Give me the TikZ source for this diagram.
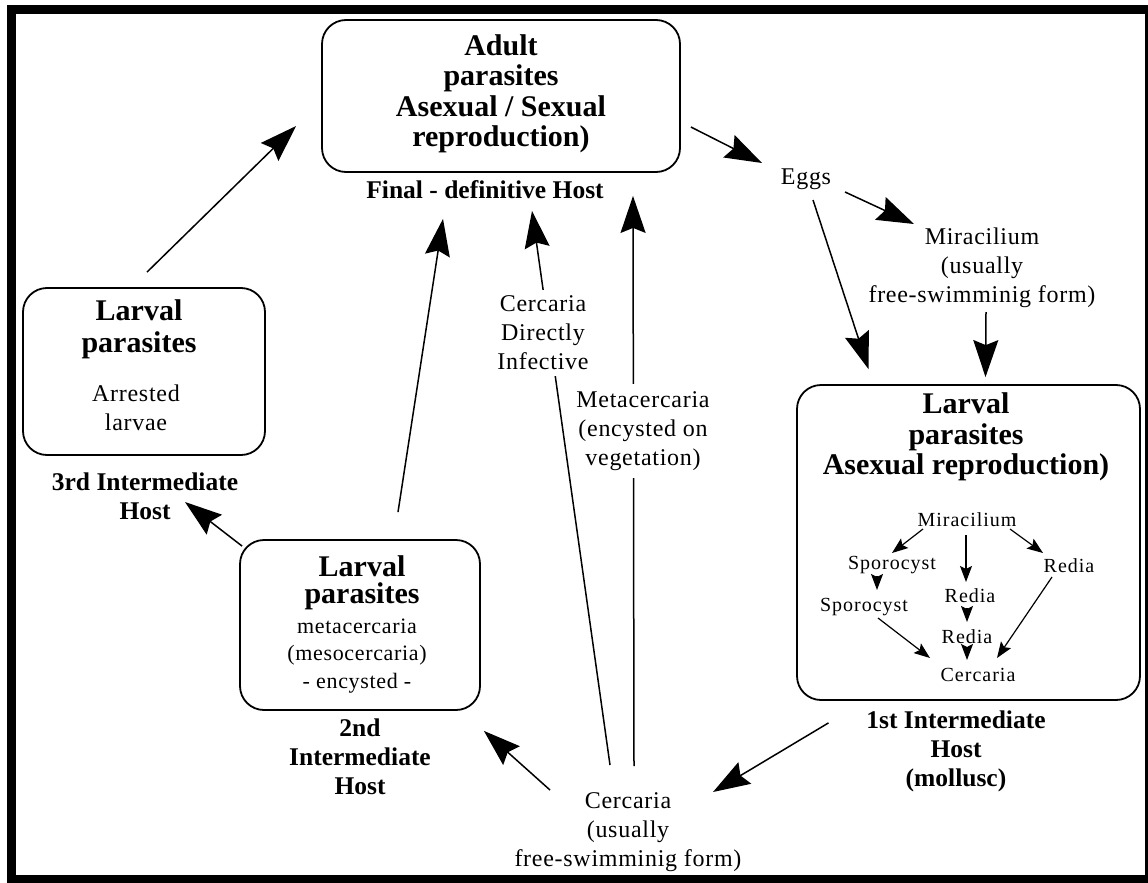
\documentclass[tikz,border=0pt]{standalone}
\usepackage{fontspec}
\setmainfont{Liberation Serif}
\usetikzlibrary{arrows.meta,calc}
\begin{document}
\begin{tikzpicture}[x=1pt,y=-1pt,
  box/.style={draw, line width=1.8pt, rounded corners=24pt, inner sep=0pt},
  ttl/.style={font=\fontsize{30}{30.5}\selectfont\bfseries, align=center, inner sep=0pt},
  host/.style={font=\fontsize{25.5}{29}\selectfont\bfseries, align=center, inner sep=0pt},
  txt/.style={font=\fontsize{24}{29}\selectfont\addfontfeature{LetterSpace=3}, align=center, inner sep=0pt},
  mid/.style={font=\fontsize{22}{27.5}\selectfont\addfontfeature{LetterSpace=3}, align=center, inner sep=0pt},
  small/.style={font=\fontsize{20}{22}\selectfont\addfontfeature{LetterSpace=5}, inner sep=0pt},
  big/.style={-{Stealth[length=37pt,width=25pt,inset=5pt]}, line width=1.5pt},
  sm/.style={-{Stealth[length=16pt,width=12pt,inset=3pt]}, line width=1.2pt},
]
\useasboundingbox (0,0) rectangle (1148,883);
\fill[white] (0,0) rectangle (1148,883);
\draw[line width=9pt] (11.5,9.5) rectangle (1149,879.5);

% boxes
\node[box, minimum width=358pt, minimum height=152pt] (adult) at (501,96) {};
\node[ttl] (adultT) at (501,94) {Adult\\parasites\\Asexual / Sexual\\reproduction)};
\node[host] (final) at (485,190) {Final - definitive Host};

\node[box, minimum width=242pt, minimum height=167pt] (larv3) at (144,371.5) {};
\node[ttl] (larv3T) at (139,329) {Larval\\[1.5pt]parasites};
\node[txt] (larv3S) at (136,408) {Arrested\\larvae};
\node[host] (host3) at (145,496) {3rd Intermediate\\Host};

\node[box, minimum width=240pt, minimum height=170pt] (larv2) at (360,625) {};
\node[ttl] (larv2T) at (362,583) {Larval\\[-3pt]parasites};
\node[mid] (larv2S) at (357,656) {metacercaria\\(mesocercaria)\\- encysted -};
\node[host] (host2) at (360,757) {2nd\\Intermediate\\Host};

\node[box, minimum width=343pt, minimum height=315pt] (larv1) at (968.5,542.5) {};
\node[ttl] (larv1T) at (966,437) {Larval\\parasites\\Asexual reproduction)};
\node[host] (host1) at (956,751) {1st Intermediate\\Host\\(mollusc)};

% free labels
\node[txt] (eggs) at (806,179) {Eggs};
\node[txt] (mira) at (982,268) {Miracilium\\(usually\\free-swimminig form)};
\node[txt] (cerc) at (628,832) {Cercaria\\(usually\\free-swimminig form)};

% inner diagram
\node[small] (iMir) at (967,520) {Miracilium};
\node[small] (iSp1) at (892,565) {Sporocyst};
\node[small] (iSp2) at (864,607) {Sporocyst};
\node[small] (iRe1) at (970,596) {Redia};
\node[small] (iRe2) at (967,637) {Redia};
\node[small] (iRe3) at (1069,566) {Redia};
\node[small] (iCer) at (978,675) {Cercaria};

\draw[sm] ($(iMir)+(-44,9)$) -- ($(iSp1)+(0,-12)$);
\draw[sm] ($(iMir)+(-1,15)$) -- ($(iRe1)+(-4,-14)$);
\draw[sm] ($(iMir)+(43,9)$) -- ($(iRe3)+(-26,-13)$);
\draw[sm] ($(iSp1)+(-15,11)$) -- ($(iSp2)+(13,-17)$);
\draw[sm] ($(iRe1)+(-3,12)$) -- ($(iRe2)+(0,-15)$);
\draw[sm] ($(iRe2)+(0,10)$) -- ($(iCer)+(-11,-15)$);
\draw[sm] ($(iSp2)+(14,11)$) -- ($(iCer)+(-48,-17)$);
\draw[sm] ($(iRe3)+(-17,11)$) -- ($(iCer)+(19,-17)$);

% main arrows
\draw[big] ($(larv3.north)+(3,-15)$) -- ($(adult.west)+(-25,30)$);
\draw[big] ($(adult.east)+(10,31)$) -- ($(eggs)+(-44,-16)$);
\draw[big] ($(eggs)+(39,13)$) -- ($(mira)+(-68,-44)$);
\draw[big] ($(eggs)+(7,21)$) -- ($(larv1.north)+(-100,-15)$);
\draw[big] ($(mira)+(4,44)$) -- ($(larv1.north)+(17,-7)$);
\draw[big] ($(larv1.south)+(-140,22)$) -- ($(cerc)+(85,-40)$);
\draw[big] ($(cerc)+(-78,-42)$) -- ($(larv2.south east)+(3,20)$);
\draw[big] ($(larv2.north west)+(3,7)$) -- ($(host3)+(40,6)$);
\draw[big] ($(larv2.north)+(38,-27)$) -- ($(adult.south)+(-58,46)$);
\draw[big] ($(cerc)+(-18,-67)$) -- ($(adult.south)+(31,38)$);
\draw[big] ($(cerc)+(6,-66)$) -- ($(adult.south)+(132,23)$);

% labels lying over connectors
\node[txt, fill=white, inner xsep=2pt, inner ysep=6pt] (cdi) at (543,333) {Cercaria\\Directly\\Infective};
\node[txt, fill=white, inner xsep=2pt, inner ysep=7pt] (meta) at (643,431) {Metacercaria\\(encysted on\\vegetation)};
\end{tikzpicture}
\end{document}
